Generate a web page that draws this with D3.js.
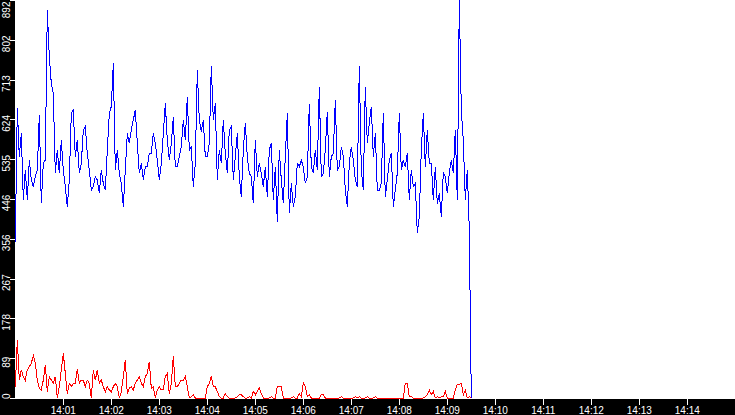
<!DOCTYPE html>
<html>
<head>
<meta charset="utf-8">
<script src="https://cdn.jsdelivr.net/npm/d3@7"></script>
<style>
  html, body { margin: 0; padding: 0; background: #fff; }
  svg { display: block; }
  text { font-family: "Liberation Sans", Arial, sans-serif; font-size: 10px; fill: #fff; }
</style>
</head>
<body>
<svg id="chart" width="735" height="415"></svg>
<script>
// ---- data ----
const startTime = "14:00:00";
const stepSeconds = 2.5;
const yMax = 892;

const blueValues = [
  350,650,541,593,444,511,444,533,489,474,
  496,511,634,436,526,533,870,765,705,683,
  504,556,504,578,511,474,429,489,638,645,
  541,578,504,526,600,608,548,511,466,474,
  496,489,459,511,481,466,556,638,653,750,
  511,556,504,481,429,511,593,571,
  601,623,645,571,504,526,489,518,518,548,
  548,593,571,533,489,526,593,660,578,533,
  571,630,518,518,541,563,623,578,675,556,
  563,474,526,735,623,597,623,541,541,571,
  743,623,660,489,556,526,623,548,504,601,
  608,489,541,593,496,451,556,
  616,541,504,496,436,578,496,526,504,474,
  518,451,556,571,444,518,395,556,489,436,
  541,638,414,481,429,451,526,518,533,518,
  481,496,660,518,504,556,511,698,496,504,
  556,642,496,541,548,668,511,518,563,541,
  466,429,526,563,533,489,474,743,
  511,466,698,571,616,653,541,593,466,466,
  481,638,451,489,533,548,429,466,504,638,
  511,533,518,548,444,511,474,481,369,406,
  556,638,518,601,526,526,444,518,436,459,
  406,504,496,459,504,533,504,601,444,892,
  645,578,444,511,377,0
];

const redValues = [
  25,130,40,63,48,40,63,70,78,95,
  78,40,22,18,40,74,14,48,40,33,
  48,0,25,63,100,55,10,33,25,33,
  33,65,33,40,40,25,40,33,0,63,
  40,63,33,40,25,14,25,18,14,25,
  33,25,0,14,48,85,10,22,
  25,18,33,40,48,33,25,48,55,81,
  22,25,0,18,25,18,18,48,55,10,
  33,93,25,25,33,40,40,48,25,0,
  3,7,0,0,0,0,0,0,25,33,
  48,25,25,15,3,0,0,10,3,0,
  0,0,0,3,7,7,3,
  0,0,3,0,15,7,15,22,10,0,
  0,0,0,3,0,0,25,25,25,0,
  0,0,0,0,3,0,0,10,3,34,
  25,3,7,0,0,0,0,0,7,7,
  0,0,0,0,0,0,0,0,3,0,
  0,0,0,0,0,3,0,3,
  0,0,0,3,0,0,0,3,0,0,
  0,0,0,0,0,0,0,0,0,0,
  0,0,33,33,3,3,0,0,0,0,
  0,0,3,7,18,7,15,0,3,0,
  3,3,15,0,0,0,0,18,30,31,
  33,7,18,0,3,0
];

const yTickLabels = ["0","89","178","267","356","446","535","624","713","802","892"];
const xTickLabels = ["14:01","14:02","14:03","14:04","14:05","14:06","14:07",
                     "14:08","14:09","14:10","14:11","14:12","14:13","14:14"];

// ---- layout ----
const W = 735, H = 415;
const left = 15, plotBottom = 398, stripTop = 399;

const parse = d3.timeParse("%H:%M:%S");
const parseMin = d3.timeParse("%H:%M");
const t0 = parse(startTime);
const t1 = d3.timeMinute.offset(t0, 15);

const x = d3.scaleTime().domain([t0, t1]).range([left + 0.3, W + 0.3]);
const y = d3.scaleLinear().domain([0, yMax]).range([plotBottom, 0]);

const timeAt = i => new Date(t0.getTime() + i * stepSeconds * 1000);

const svg = d3.select("#chart");
svg.append("rect").attr("width", W).attr("height", H).attr("fill", "#fff");

const line = d3.line()
  .x((d, i) => x(timeAt(i)))
  .y(d => y(d));

svg.append("path").datum(redValues)
  .attr("d", line).attr("fill", "none").attr("stroke", "#ff0000")
  .attr("stroke-width", 1).attr("shape-rendering", "crispEdges");

svg.append("path").datum(blueValues)
  .attr("d", line).attr("fill", "none").attr("stroke", "#0000ff")
  .attr("stroke-width", 1).attr("shape-rendering", "crispEdges");

// black strips
svg.append("rect").attr("x", 0).attr("y", 0).attr("width", left).attr("height", H).attr("fill", "#000");
svg.append("rect").attr("x", 0).attr("y", stripTop).attr("width", W).attr("height", H - stripTop).attr("fill", "#000");

// y axis ticks and labels
const yTicks = yTickLabels.map((lab, i) => ({ lab, v: i * yMax / 10 }));
const yg = svg.append("g");
yg.selectAll("line").data(yTicks).enter().append("line")
  .attr("x1", 10).attr("x2", left)
  .attr("y1", d => Math.round(y(d.v)) + 0.5).attr("y2", d => Math.round(y(d.v)) + 0.5)
  .attr("stroke", "#fff").attr("stroke-width", 1);

yg.selectAll("text").data(yTicks).enter().append("text")
  .text(d => d.lab)
  .attr("text-anchor", "middle")
  .each(function(d) {
    const half = this.getComputedTextLength() / 2;
    let c = y(d.v) + 4;
    c = Math.max(c, half + 1.5);
    c = Math.min(c, plotBottom - half + 1);
    d3.select(this).attr("transform", `translate(10,${c}) rotate(-90)`);
  });

// x axis ticks and labels
const xTicks = xTickLabels.map(lab => ({ lab, t: parseMin(lab) }));
const xg = svg.append("g");
xg.selectAll("line").data(xTicks).enter().append("line")
  .attr("x1", d => Math.round(x(d.t)) + 0.5).attr("x2", d => Math.round(x(d.t)) + 0.5)
  .attr("y1", stripTop).attr("y2", 405)
  .attr("stroke", "#fff").attr("stroke-width", 1);
xg.selectAll("text").data(xTicks).enter().append("text")
  .attr("x", d => x(d.t)).attr("y", 414)
  .attr("text-anchor", "middle")
  .text(d => d.lab);
</script>
</body>
</html>
